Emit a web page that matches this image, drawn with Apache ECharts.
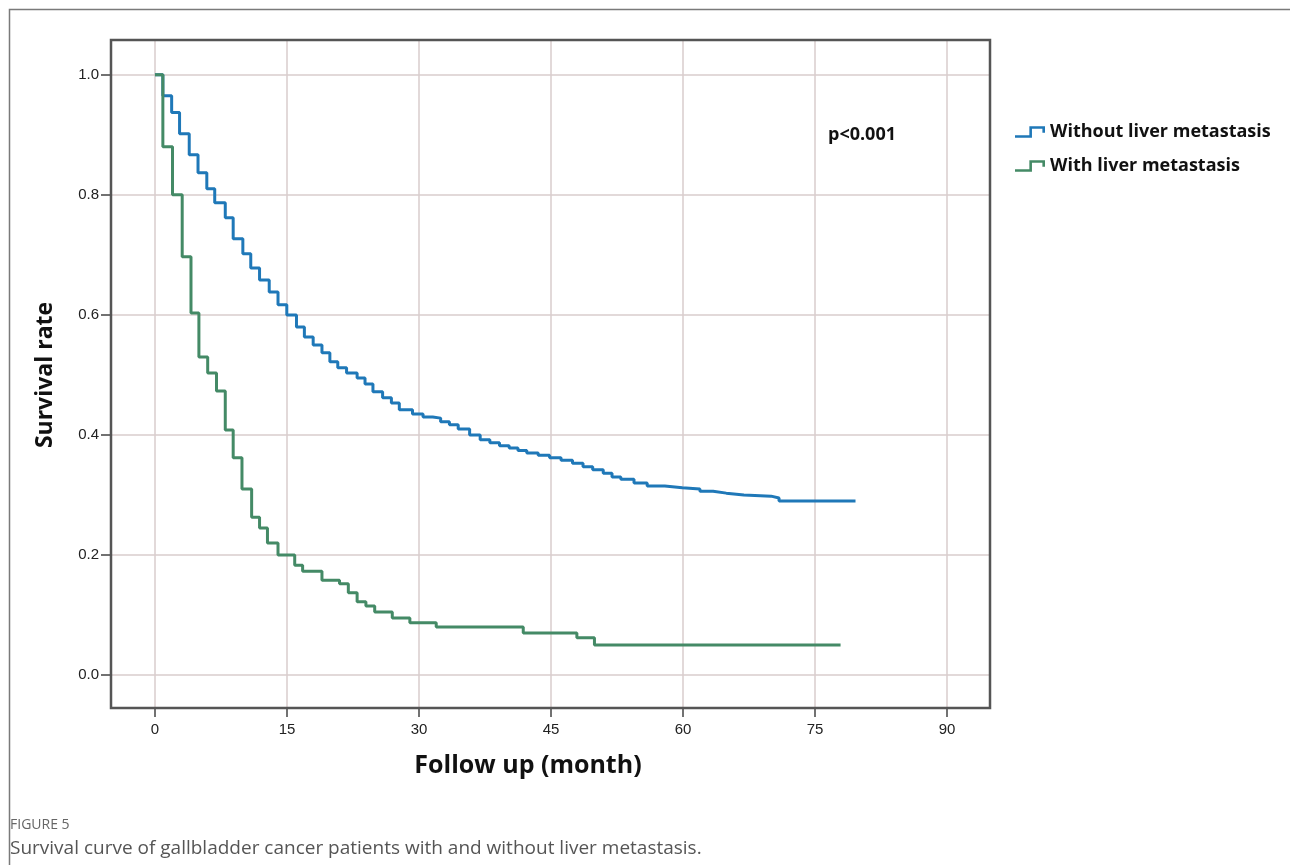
<!DOCTYPE html>
<html><head><meta charset="utf-8">
<script src="https://cdn.jsdelivr.net/npm/echarts@6/dist/echarts.min.js"></script>
<style>html,body{margin:0;padding:0;background:#fff;}#c{width:1290px;height:865px;}</style>
</head><body><div id="c"></div>
<script>
// ---- data ----
const xTicks = [0, 15, 30, 45, 60, 75, 90];
const yTicks = [0, 0.2, 0.4, 0.6, 0.8, 1.0];
const xFrame = [-5, 95];
const yFrame = [-0.055, 1.058];
const seriesNames = ['Without liver metastasis', 'With liver metastasis'];
const withoutTime = [0,0.9,1.9,2.8,3.9,4.9,5.9,6.8,8.0,8.9,10.0,10.9,11.9,13.0,14.0,15.0,16.1,17.0,18.0,19.0,19.9,20.8,21.8,23.0,23.9,24.8,25.9,26.9,27.8,29.3,30.5,31.6,32.5,33.5,34.5,35.8,37.0,38.1,39.2,40.3,41.3,42.3,43.6,44.9,46.2,47.5,48.7,49.8,51.0,52.0,53.0,54.5,56.0,58.0,60.0,62.0,63.5,65.0,67.0,70.1,71.0,79.7];
const withoutSurv = [1.0,0.965,0.937,0.902,0.867,0.837,0.81,0.787,0.762,0.727,0.702,0.678,0.658,0.638,0.617,0.60,0.58,0.563,0.55,0.537,0.522,0.512,0.503,0.495,0.485,0.472,0.462,0.453,0.442,0.435,0.43,0.428,0.422,0.417,0.41,0.40,0.392,0.387,0.382,0.378,0.374,0.37,0.366,0.362,0.358,0.353,0.347,0.342,0.336,0.33,0.326,0.32,0.315,0.312,0.31,0.306,0.303,0.30,0.298,0.295,0.29,0.29];
const withTime = [0,0.9,2.0,3.1,4.1,5.0,6.0,7.0,8.0,8.9,9.9,11.0,11.9,12.8,14.0,15.9,16.8,19.0,21.0,22.0,23.0,24.0,25.0,27.0,29.0,32.0,41.9,48.0,50.0,78.0];
const withSurv = [1.0,0.88,0.80,0.697,0.603,0.53,0.503,0.473,0.408,0.362,0.31,0.263,0.245,0.22,0.2,0.183,0.173,0.158,0.152,0.137,0.122,0.115,0.105,0.095,0.087,0.08,0.07,0.062,0.05,0.05];
const pText = 'p<0.001';
const xName = 'Follow up (month)';
const yName = 'Survival rate';
const figLabel = 'FIGURE 5';
const caption = 'Survival curve of gallbladder cancer patients with and without liver metastasis.';

// ---- chart ----
const zip = (a, b) => a.map((v, i) => [v, b[i]]);
const blue = '#1f78b8', green = '#448a66';
const gridColor = '#d8cdcd';
const boldFont = '"Open Sans", "DejaVu Sans", sans-serif';
const tickFont = '"Liberation Sans", Arial, sans-serif';
const kmIcon = 'path://M0,7 L11,7 L11,0 L23,0 L23,5 L21,5 L21,2 L13,2 L13,9 L0,9 Z';

const chart = echarts.init(document.getElementById('c'), null, {renderer: 'canvas'});
chart.setOption({
  backgroundColor: '#fff',
  animation: false,
  grid: [
    {left: 111, right: 300, top: 40, bottom: 157, show: true, borderColor: '#555', borderWidth: 2.5, backgroundColor: 'transparent', z: 3},
    {left: 155, right: 343, top: 41, bottom: 158},
    {left: 111, right: 300, top: 75, bottom: 190}
  ],
  xAxis: [
    {gridIndex: 0, type: 'value', min: xFrame[0], max: xFrame[1], show: false, splitLine: {show: false}},
    {gridIndex: 1, type: 'value', min: xTicks[0], max: xTicks[xTicks.length - 1], interval: xTicks[1] - xTicks[0],
     axisLine: {show: false},
     axisTick: {show: true, inside: false, length: 10, lineStyle: {color: '#444', width: 1.5}},
     axisLabel: {fontFamily: tickFont, fontSize: 15, color: '#222', margin: 15},
     splitLine: {show: true, lineStyle: {color: gridColor, width: 1.5}},
     name: xName, nameLocation: 'middle', nameGap: 46,
     nameTextStyle: {fontFamily: boldFont, fontWeight: 'bold', fontSize: 25, color: '#111', padding: [0, 46, 0, 0]}},
    {gridIndex: 2, type: 'value', show: false, min: 0, max: 1}
  ],
  yAxis: [
    {gridIndex: 0, type: 'value', min: yFrame[0], max: yFrame[1], show: false, splitLine: {show: false}},
    {gridIndex: 1, type: 'value', show: false, min: 0, max: 1, splitLine: {show: false}},
    {gridIndex: 2, type: 'value', min: yTicks[0], max: yTicks[yTicks.length - 1], interval: yTicks[1] - yTicks[0],
     axisLine: {show: false},
     axisTick: {show: true, inside: false, length: 10, lineStyle: {color: '#444', width: 1.5}},
     axisLabel: {fontFamily: tickFont, fontSize: 15, color: '#222', margin: 12, formatter: v => v.toFixed(1)},
     splitLine: {show: true, lineStyle: {color: gridColor, width: 1.5}},
     name: yName, nameLocation: 'middle', nameGap: 54,
     nameTextStyle: {fontFamily: boldFont, fontWeight: 'bold', fontSize: 23, color: '#111'}}
  ],
  legend: {
    orient: 'vertical', left: 1010, top: 118, itemGap: 16, itemWidth: 30, itemHeight: 12,
    textStyle: {fontFamily: boldFont, fontWeight: 'bold', fontSize: 18, color: '#111'},
    data: [{name: seriesNames[0], icon: kmIcon}, {name: seriesNames[1], icon: kmIcon}]
  },
  series: [
    {name: seriesNames[0], type: 'line', step: 'end', xAxisIndex: 0, yAxisIndex: 0, showSymbol: false, symbol: 'none',
     lineStyle: {color: blue, width: 3}, itemStyle: {color: blue}, data: zip(withoutTime, withoutSurv), z: 4},
    {name: seriesNames[1], type: 'line', step: 'end', xAxisIndex: 0, yAxisIndex: 0, showSymbol: false, symbol: 'none',
     lineStyle: {color: green, width: 3}, itemStyle: {color: green}, data: zip(withTime, withSurv), z: 4}
  ],
  graphic: [
    {type: 'rect', shape: {x: 9.5, y: 9.5, width: 1300, height: 900}, style: {fill: 'none', stroke: '#7a7a7a', lineWidth: 1.5}, silent: true, z: -10},
    {type: 'text', x: 828, y: 126, style: {text: pText, font: 'bold 18px ' + boldFont, fill: '#111'}},
    {type: 'text', x: 10, y: 818, style: {text: figLabel, font: '14px ' + boldFont, fill: '#666'}},
    {type: 'text', x: 10, y: 839, style: {text: caption, font: '19px ' + boldFont, fill: '#555'}}
  ]
});
</script></body></html>
